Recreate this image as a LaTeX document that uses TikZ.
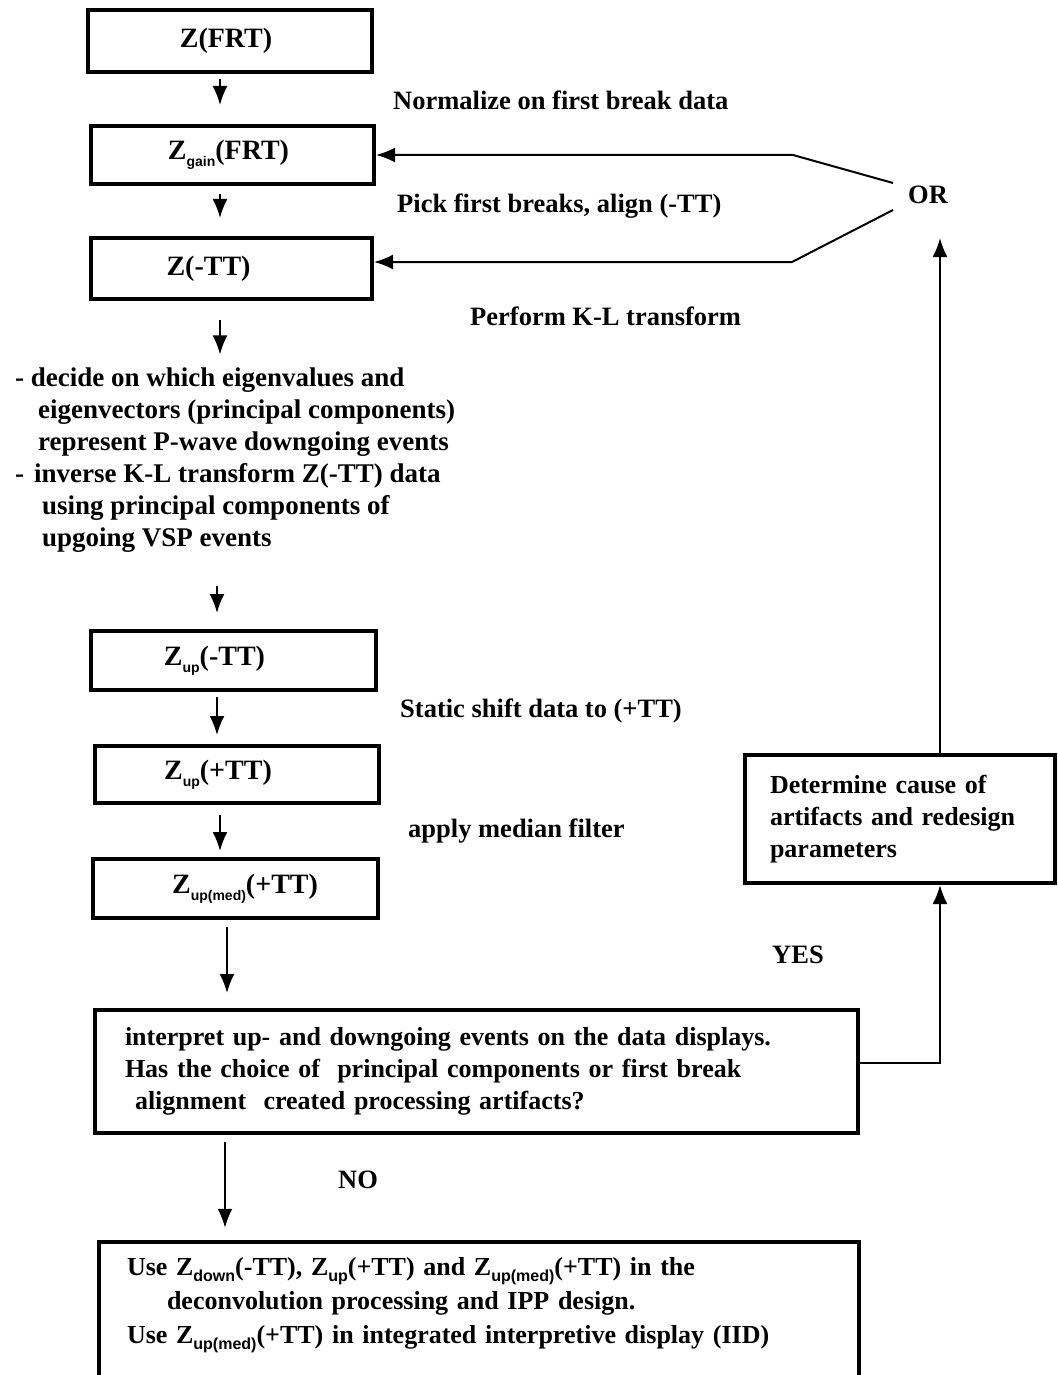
\documentclass[tikz,border=0pt]{standalone}
\usepackage{fontspec}
\setmainfont{Liberation Serif}
\newfontfamily\subsf{Liberation Sans}
\usetikzlibrary{arrows.meta}
\newcommand{\sbA}[1]{\raisebox{-0.25em}{\subsf\bfseries\fontsize{14}{14}\selectfont #1}}
\newcommand{\sbB}[1]{\raisebox{-0.25em}{\subsf\bfseries\fontsize{16}{16}\selectfont #1}}
\begin{document}
\begin{tikzpicture}[x=1pt,y=-1pt,
  box/.style={draw, line width=4pt, inner sep=0pt},
  zbox/.style={box, font=\fontsize{28}{32}\selectfont\bfseries},
  arr/.style={-{Latex[length=19pt,width=15pt]}, line width=2pt},
  lbl/.style={font=\fontsize{26.5}{32}\selectfont\bfseries, anchor=west, inner sep=0pt, align=left},
  big/.style={font=\fontsize{26}{32}\selectfont\bfseries, align=left, inner ysep=0pt}
]
\useasboundingbox (0,0) rectangle (1057,1375);
\clip (0,0) rectangle (1057,1375);
\fill[white] (0,0) rectangle (1057,1375);

% main column boxes
\node[zbox, minimum width=284pt, minimum height=62pt] (b1) at (230,41) {Z(FRT)\hspace*{8pt}};
\node[zbox, minimum width=283pt, minimum height=58pt] (b2) at (232.5,155) {Z\sbA{gain}(FRT)\hspace*{8pt}};
\node[zbox, minimum width=281pt, minimum height=61pt] (b3) at (231.5,268.5) {Z(-TT)\hspace*{46pt}};
\node[lbl, font=\fontsize{27}{32}\selectfont\bfseries] (t1) at (15,460) {%
- decide on which eigenvalues and\\
\hspace*{23pt}eigenvectors (principal components)\\
\hspace*{23pt}represent P-wave downgoing events\\
-\hspace*{10pt}inverse K-L transform Z(-TT) data\\
\hspace*{27pt}using principal components of\\
\hspace*{27pt}upgoing VSP events};
\node[zbox, minimum width=285pt, minimum height=59pt] (b4) at (233.5,660.5) {Z\sbA{up}(-TT)\hspace*{38pt}};
\node[zbox, minimum width=284pt, minimum height=57pt] (b5) at (237,774.5) {Z\sbA{up}(+TT)\hspace*{38pt}};
\node[zbox, minimum width=285pt, minimum height=59pt] (b6) at (235.5,888.5) {\hspace*{19pt}Z\sbA{up(med)}(+TT)};
\node[box, big, minimum width=763pt, minimum height=123pt, text width=703pt, inner xsep=30pt] (b7) at (476.5,1071.5) {%
interpret up- and downgoing events on the data displays.\\
Has the choice of\ \ principal components or first break\\
\hspace*{10pt}alignment\ \ created processing artifacts?};
\node[big, minimum width=760pt, minimum height=126pt, text width=704pt, inner xsep=28pt, font=\fontsize{26}{34}\selectfont\bfseries] (fin) at (479,1305) {%
Use Z\sbB{down}(-TT), Z\sbB{up}(+TT) and Z\sbB{up(med)}(+TT) in the\\
\hspace*{40pt}deconvolution processing and IPP design.\\
Use Z\sbB{up(med)}(+TT) in integrated interpretive display (IID)};
\draw[line width=4pt] ([yshift=-20pt]fin.south west) -- (fin.north west) -- (fin.north east) -- ([yshift=-20pt]fin.south east);

% right box
\node[box, big, minimum width=310pt, minimum height=128pt, text width=260pt, inner xsep=25pt] (rb) at (900,819) {%
Determine cause of\\
artifacts and redesign\\
parameters};

% labels
\node[lbl] (l1) at (393,100) {Normalize on first break data};
\node[lbl] (l2) at (397,206) {Pick first breaks, align (-TT)};
\node[lbl] (l3) at (470,316) {Perform K-L transform};
\node[lbl] (l4) at (400,711) {Static shift data to (+TT)};
\node[lbl] (l5) at (408,831) {apply median filter};
\node[lbl] (yes) at (772,955) {YES};
\node[lbl] (no) at (338,1180) {NO};
\node[lbl] (orn) at (908,195) {OR};

% coordinates
\coordinate (cx) at (220,0);
\coordinate (cxb) at (217,0);
\coordinate (cxc) at (227,0);
\coordinate (cxd) at (225,0);
\coordinate (fx) at (940,0);
\coordinate (ortip) at (940,238);
\coordinate (u1) at (893,183);
\coordinate (u2) at (793,155);
\coordinate (v1) at (893,210);
\coordinate (v2) at (792,262);

% down arrows
\draw[arr, shorten <=5pt, shorten >=19pt] (b1.south -| cx) -- (b2.north -| cx);
\draw[arr, shorten <=8pt, shorten >=18pt] (b2.south -| cx) -- (b3.north -| cx);
\draw[arr, shorten <=19pt, shorten >=13pt] (b3.south -| cx) -- (t1.north -| cx);
\draw[arr, shorten <=33pt, shorten >=16pt] (t1.south -| cxb) -- (b4.north -| cxb);
\draw[arr, shorten <=5pt, shorten >=9pt] (b4.south -| cxb) -- (b5.north -| cxb);
\draw[arr, shorten <=10pt, shorten >=6pt] (b5.south -| cx) -- (b6.north -| cx);
\draw[arr, shorten <=7pt, shorten >=15pt] (b6.south -| cxc) -- (b7.north -| cxc);
\draw[arr, shorten <=7pt, shorten >=14pt] (b7.south -| cxd) -- (fin.north -| cxd);

% feedback
\draw[arr] ([yshift=8.5pt]b7.east) -| (rb.south -| fx);
\draw[arr] (rb.north -| fx) -- (ortip);
\draw[arr] (u1) -- (u2) -- (u2 -| b2.east);
\draw[arr] (v1) -- (v2) -- (v2 -| b3.east);
\end{tikzpicture}
\end{document}
